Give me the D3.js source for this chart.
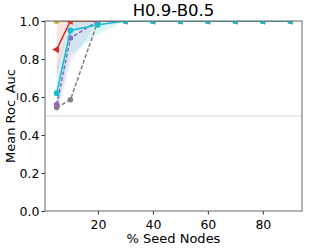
<!DOCTYPE html>
<html><head><meta charset="utf-8">
<script src="https://cdn.jsdelivr.net/npm/d3@7"></script>
<style>body{margin:0;background:#fff}svg{display:block}text{font-family:"DejaVu Sans",sans-serif}</style>
</head><body><svg id="c" width="309" height="249"></svg>
<script>
const xs = [5,10,20,30,40,50,60,70,80,90];
const title = "H0.9-B0.5";
const xTicks = [20,40,60,80];
const yTicks = [0.0,0.2,0.4,0.6,0.8,1.0];
const redVals    = [0.85,1,1,1,1,1,1,1,1,1];
const redLo      = [0.70,1,1,1,1,1,1,1,1,1];
const redHi      = [1.0,1,1,1,1,1,1,1,1,1];
const oliveVals  = [1,1,1,1,1,1,1,1,1,1];
const pinkVals   = [1,1,1,1,1,1,1,1,1,1];
const grayVals   = [0.545,0.585,1,1,1,1,1,1,1,1];
const purpleVals = [0.56,0.91,1,1,1,1,1,1,1,1];
const purpleLo   = [0.50,0.78,1,1,1,1,1,1,1,1];
const purpleHi   = [0.66,1.0,1,1,1,1,1,1,1,1];
const cyanVals   = [0.62,0.95,0.98,1,1,1,1,1,1,1];
const cyanLo     = [0.52,0.82,0.93,1,1,1,1,1,1,1];
const cyanHi     = [0.76,1.0,1.0,1,1,1,1,1,1,1];

const svg = d3.select("#c");
const L=45,R=302,T=21,B=211;
const x = d3.scaleLinear().domain([0.75,94.25]).range([L,R]);
const y = d3.scaleLinear().domain([0,1]).range([B,T]);
svg.append("clipPath").attr("id","cp").append("rect").attr("x",L).attr("y",T).attr("width",R-L).attr("height",B-T);
const g = svg.append("g");
g.append("line").attr("x1",L).attr("x2",R).attr("y1",y(0.5)).attr("y2",y(0.5)).attr("stroke","#cccccc").attr("stroke-width",0.8);

const area = (lo,hi)=>d3.area().x((d,i)=>x(xs[i])).y0((d,i)=>y(lo[i])).y1((d,i)=>y(hi[i]));
const line = d3.line().x((d,i)=>x(xs[i])).y(d=>y(d));
const pg = g.append("g").attr("clip-path","url(#cp)");
pg.append("path").datum(redVals).attr("d",area(redLo,redHi)).attr("fill","#d62728").attr("fill-opacity",0.12);
pg.append("path").datum(purpleVals).attr("d",area(purpleLo,purpleHi)).attr("fill","#9467bd").attr("fill-opacity",0.12);
pg.append("path").datum(cyanVals).attr("d",area(cyanLo,cyanHi)).attr("fill","#17becf").attr("fill-opacity",0.15);

function series(vals,color,dash,marker,size,rot){
  pg.append("path").datum(vals).attr("d",line).attr("fill","none").attr("stroke",color).attr("stroke-width",1.5).attr("stroke-dasharray",dash||null);
  pg.selectAll(null).data(vals).enter().append("path")
    .attr("transform",(d,i)=>`translate(${x(xs[i])},${y(d)}) rotate(${rot||0})`)
    .attr("d",d3.symbol().type(marker).size(size)).attr("fill",color);
}
series(pinkVals,"#e377c2",null,d3.symbolCircle,24);
series(oliveVals,"#bcbd22",null,d3.symbolSquare,24);
series(redVals,"#d62728",null,d3.symbolTriangle,26,-90);
series(grayVals,"#7f7f7f","4,2",d3.symbolCircle,24);
series(purpleVals,"#9467bd","4,2",d3.symbolCircle,24);
series(cyanVals,"#17becf",null,d3.symbolCircle,26);

const ax = g.append("g").attr("transform",`translate(0,${B})`).call(d3.axisBottom(x).tickValues(xTicks).tickSize(3.5).tickFormat(d3.format("d")));
const ay = g.append("g").attr("transform",`translate(${L},0)`).call(d3.axisLeft(y).tickValues(yTicks).tickSize(3.5).tickFormat(d3.format(".1f")));
[ax,ay].forEach(a=>{a.select(".domain").remove();a.selectAll("line").attr("stroke","#333");a.selectAll("text").attr("font-size",12.5).attr("fill","#000").attr("font-family","DejaVu Sans");});
ax.selectAll("text").attr("dy","0.95em");
ay.selectAll("text").attr("x",-5.5);
g.append("rect").attr("x",L).attr("y",T).attr("width",R-L).attr("height",B-T).attr("fill","none").attr("stroke","#666").attr("stroke-width",1);
svg.append("text").attr("x",(L+R)/2).attr("y",16).attr("text-anchor","middle").attr("font-size",16.5).text(title);
svg.append("text").attr("x",(L+R)/2).attr("y",243).attr("text-anchor","middle").attr("font-size",13).text("% Seed Nodes");
svg.append("text").attr("transform",`translate(15,${(T+B)/2}) rotate(-90)`).attr("text-anchor","middle").attr("font-size",13).text("Mean Roc_Auc");
</script></body></html>
